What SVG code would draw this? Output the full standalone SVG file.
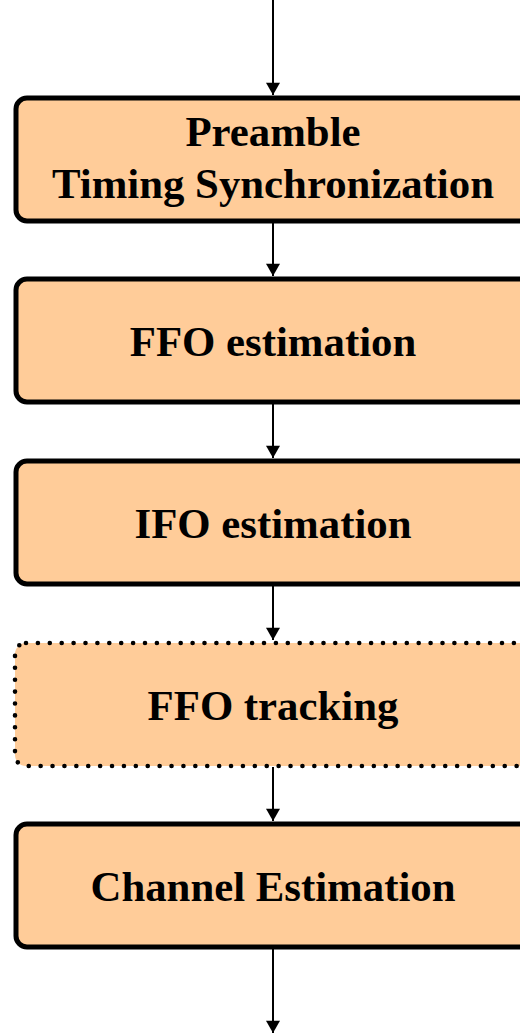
<svg xmlns="http://www.w3.org/2000/svg" width="520" height="1034" viewBox="0 0 520 1034">
<style>
.box{fill:#FFCC99;stroke:#000;stroke-width:5}
.dot{fill:#FFCC99;stroke:#000;stroke-width:4.6;stroke-dasharray:0 11.9;stroke-linecap:round}
.t{font-family:"Liberation Serif","Times New Roman",serif;font-weight:bold;font-size:42.8px;text-anchor:middle;fill:#000}
.c{stroke:#000;stroke-width:2;fill:none}
</style>
<defs>
<marker id="ah" markerUnits="userSpaceOnUse" markerWidth="16" markerHeight="14" refX="14" refY="8" viewBox="0 0 14 16" orient="auto">
<path d="M0,0 L14,8 L0,16 Z" fill="#000"/>
</marker>
</defs>
<rect width="520" height="1034" fill="#fff"/>
<g id="connectors">
<line class="c" x1="273" y1="0" x2="273" y2="95" marker-end="url(#ah)"/>
<line class="c" x1="273" y1="222" x2="273" y2="276" marker-end="url(#ah)"/>
<line class="c" x1="273" y1="403" x2="273" y2="458" marker-end="url(#ah)"/>
<line class="c" x1="273" y1="585" x2="273" y2="640" marker-end="url(#ah)"/>
<line class="c" x1="273" y1="767" x2="273" y2="821" marker-end="url(#ah)"/>
<line class="c" x1="273" y1="948" x2="273" y2="1033" marker-end="url(#ah)"/>
</g>
<g id="preamble">
<rect class="box" x="16" y="98" width="514" height="123" rx="11"/>
<text class="t" x="273" y="146">Preamble</text>
<text class="t" x="273" y="198">Timing Synchronization</text>
</g>
<g id="ffo-est">
<rect class="box" x="16" y="279" width="514" height="123" rx="11"/>
<text class="t" x="273" y="356">FFO estimation</text>
</g>
<g id="ifo-est">
<rect class="box" x="16" y="461" width="514" height="123" rx="11"/>
<text class="t" x="273" y="538">IFO estimation</text>
</g>
<g id="ffo-track">
<rect class="dot" x="15" y="643" width="515" height="123" rx="11"/>
<text class="t" x="273" y="720">FFO tracking</text>
</g>
<g id="channel-est">
<rect class="box" x="16" y="824" width="514" height="123" rx="11"/>
<text class="t" x="273" y="901">Channel Estimation</text>
</g>
</svg>
